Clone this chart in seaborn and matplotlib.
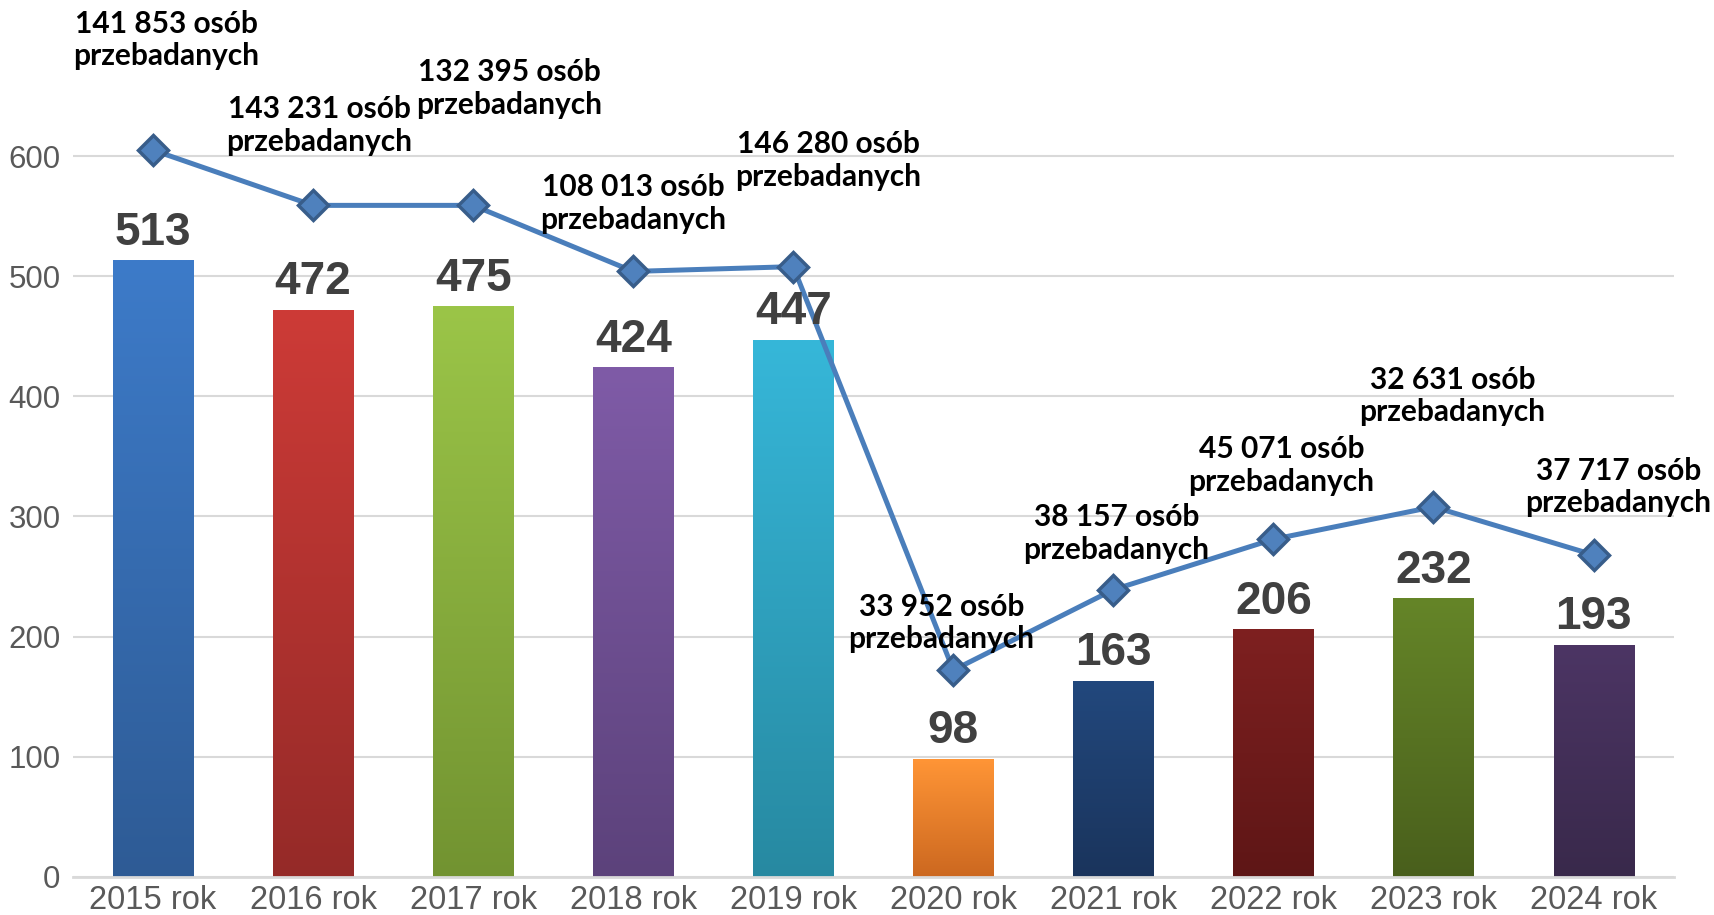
import numpy as np
import pandas as pd
import matplotlib
matplotlib.use("Agg")
import matplotlib.pyplot as plt
import seaborn as sns
from matplotlib.colors import to_rgb

# Data
years = ["2015 rok", "2016 rok", "2017 rok", "2018 rok", "2019 rok",
         "2020 rok", "2021 rok", "2022 rok", "2023 rok", "2024 rok"]
counts = [513, 472, 475, 424, 447, 98, 163, 206, 232, 193]
# line drawn on the same axis in the original (position)
line_pos = [605, 559, 559, 504, 508, 172, 239, 281, 308, 268]
people = ["141 853", "143 231", "132 395", "108 013", "146 280",
          "33 952", "38 157", "45 071", "32 631", "37 717"]

# bar gradient colours (top, bottom)
top_colors = ["#3D7BC9", "#CD3B37", "#9BC548", "#7F5BA7", "#36B7D9",
              "#FF9536", "#22487D", "#7E2020", "#658528", "#4C3564"]
bottom_colors = ["#2E5B95", "#952A28", "#729331", "#5C427B", "#2789A1",
                 "#CC6820", "#1A345C", "#5E1616", "#495F1C", "#39294B"]

# label offsets in pixels (dx, dy) relative to each marker
label_offsets = [(13, 110), (6, 80), (36, 117), (0, 68), (35, 106),
                 (-12, 47), (3, 56), (8, 74), (19, 111), (25, 68)]

df = pd.DataFrame({"Year": years, "Count": counts})

sns.set_style("white")
plt.rcParams['font.family'] = ['Liberation Sans', 'DejaVu Sans']

fig = plt.figure(figsize=(17.14, 9.15), dpi=100)
ax = fig.add_axes([0.0426, 0.0418, 0.9338, 0.9582])

sns.barplot(data=df, x="Year", y="Count", hue="Year", palette=top_colors,
            legend=False, width=0.5, ax=ax, zorder=2)

# Replace flat bars with vertical gradients
for patch, c_top, c_bot in zip(ax.patches, top_colors, bottom_colors):
    x0, y0 = patch.get_x(), patch.get_y()
    w, h = patch.get_width(), patch.get_height()
    t = np.linspace(0, 1, 256)[:, None, None]
    grad = np.array(to_rgb(c_bot))[None, None, :] * (1 - t) + np.array(to_rgb(c_top))[None, None, :] * t
    ax.imshow(grad, extent=[x0, x0 + w, y0, y0 + h], origin="lower",
              aspect="auto", zorder=2, interpolation="bilinear")
    patch.set_alpha(0)

# value labels on bars
for i, v in enumerate(counts):
    ax.annotate(str(v), (i, v), xytext=(0, 4), textcoords="offset points",
                ha="center", va="bottom", fontsize=33, fontweight="bold",
                color="#404040", zorder=5)

# line with diamond markers
sns.lineplot(x=np.arange(len(years)), y=line_pos, ax=ax, color="#4A7EBB",
             linewidth=3.6, marker="D", markersize=15,
             markerfacecolor="#4F81BD", markeredgecolor="#385D8A",
             markeredgewidth=2.5, zorder=4)

for i, (val, txt) in enumerate(zip(line_pos, people)):
    dx, dy = label_offsets[i]
    ax.annotate(f"{txt} osób\nprzebadanych", (i, val), xytext=(dx, dy),
                textcoords="offset pixels", ha="center", va="center",
                fontsize=21.5, fontweight="bold", color="black",
                family=["Lato", "DejaVu Sans"], linespacing=1.2, zorder=6)

ax.set_xlim(-0.5, len(years) - 0.5)
ax.set_ylim(0, 730)
ax.set_yticks([0, 100, 200, 300, 400, 500, 600])
ax.yaxis.grid(True, color="#D9D9D9", linewidth=1.5, zorder=0)
ax.set_axisbelow(True)
ax.set_xlabel("")
ax.set_ylabel("")
for s in ["top", "right", "left"]:
    ax.spines[s].set_visible(False)
ax.spines["bottom"].set_color("#D9D9D9")
ax.spines["bottom"].set_linewidth(2)
ax.tick_params(axis="both", length=0, labelcolor="#595959")
ax.tick_params(axis="y", pad=9, labelsize=22.5)
ax.tick_params(axis="x", pad=6, labelsize=23.5)

fig.savefig("out.png", dpi=100)
